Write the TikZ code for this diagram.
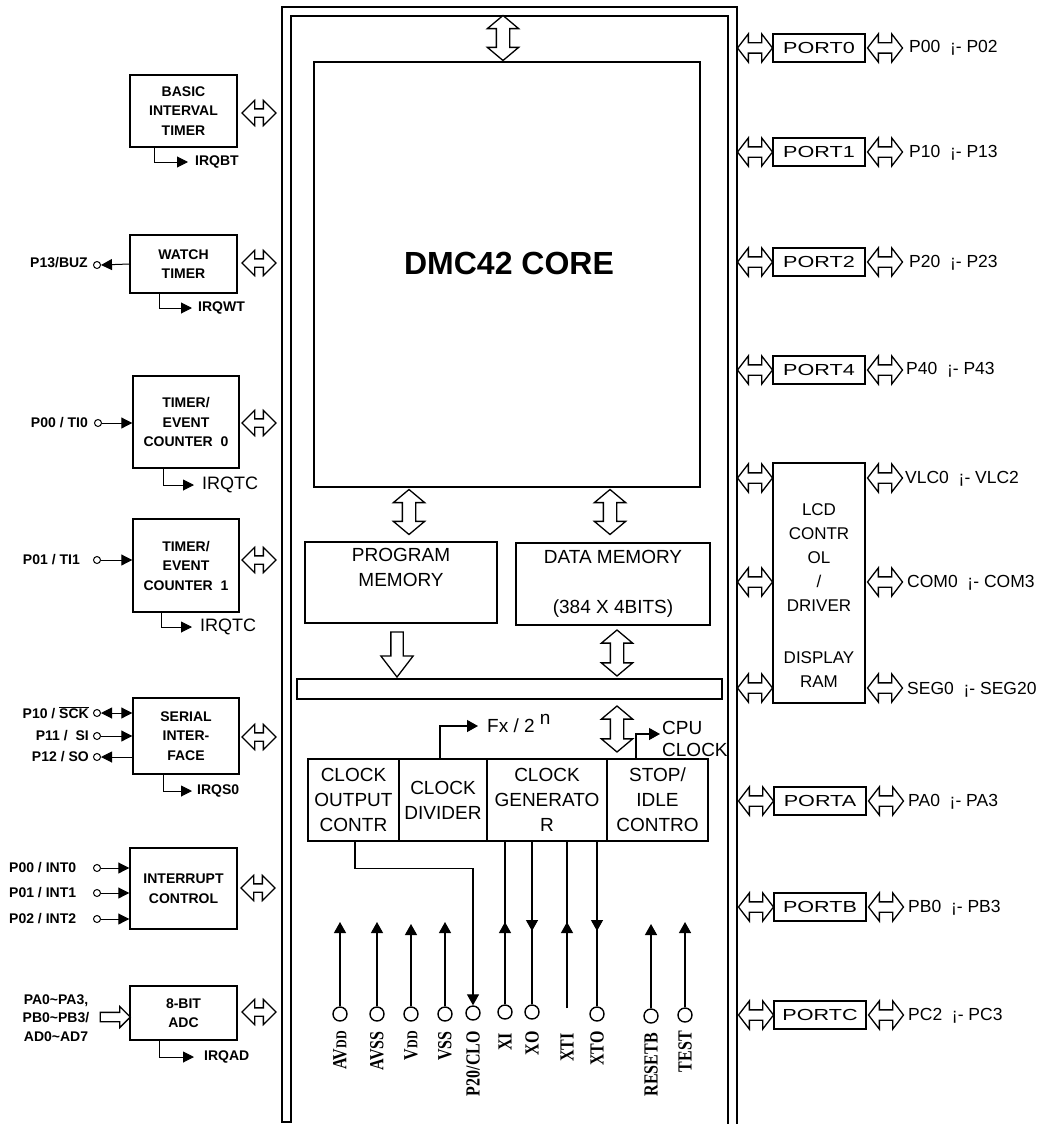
\documentclass[tikz,border=0pt]{standalone}
\usepackage{fontspec}
\setmainfont{Liberation Sans}
\newfontfamily\pinfont[FakeStretch=0.8]{Liberation Serif}
\newfontfamily\portfont[FakeStretch=1.35]{Liberation Sans}
\usetikzlibrary{arrows.meta,positioning,shapes.arrows}

\begin{document}
\begin{tikzpicture}[x=1pt, y=-1pt,
        unit/.style={draw, line width=1.4pt, align=center, inner sep=0pt, font=\bfseries\fontsize{14}{19.5}\selectfont},
        core/.style={draw, line width=1.4pt, align=center, inner sep=0pt, font=\fontsize{19}{25}\selectfont},
        port/.style={draw, line width=1.4pt, minimum width=92pt, minimum height=28pt, inner sep=0pt, font=\portfont\fontsize{16}{20}\selectfont},
        ext/.style={anchor=west, inner sep=0pt, font=\fontsize{17.5}{20}\selectfont},
        lbl/.style={inner sep=0pt, font=\bfseries\fontsize{14}{18.5}\selectfont},
        pad/.style={circle, draw, line width=1.4pt, minimum size=14pt, inner sep=0pt},
        io/.style={circle, draw, line width=1pt, minimum size=7pt, inner sep=0pt},
        sig/.style={line width=1.3pt, -{Triangle[length=11pt,width=12pt]}},
        irq/.style={line width=1pt, -{Triangle[length=11pt,width=11pt]}},
        irqb/.style={line width=1pt, {Triangle[length=11pt,width=11pt]}-{Triangle[length=11pt,width=11pt]}},
        pinlbl/.style={rotate=90, anchor=east, inner sep=0pt, font=\pinfont\bfseries\fontsize{20}{20}\selectfont},
        hbus/.style={double arrow, draw, line width=1.3pt, fill=white, inner xsep=0pt, inner ysep=3.5pt, double arrow head extend=8.5pt, minimum height=34pt, minimum width=0pt},
        pbus/.style={hbus, inner ysep=4.5pt, double arrow head extend=9pt, double arrow tip angle=105, minimum height=35pt},
        vbus/.style={hbus, rotate=90, inner ysep=6pt, double arrow head extend=9pt, double arrow tip angle=100, minimum height=45pt}
    ]
    \useasboundingbox (0,0) rectangle (1053,1124);

    % chip frame
    \draw[line width=1.8pt] (737,1124) -- (737,7) -- (282,7) -- (282,1122) -- (291,1122) -- (291,16) -- (728,16) -- (728,1124);

    % core
    \node[draw, line width=1.4pt, minimum width=386pt, minimum height=425pt, inner sep=0pt] (dmc) at (507,274.5) {};
    \node[inner sep=0pt, font=\bfseries\fontsize{32}{36}\selectfont] (dmclbl) at (509,263) {DMC42 CORE};
    \node[vbus] (topbus) at (503,38) {};
    \node[vbus] (progbus) at (409,512) {};
    \node[vbus] (databus) at (610,512) {};

    \node[core, minimum width=192pt, minimum height=81pt] (prog) at (401,582.5) {};
    \node[inner sep=0pt, align=center, font=\fontsize{19}{25}\selectfont] (proglbl) at (401,567.5) {PROGRAM\\MEMORY};
    \node[core, minimum width=194pt, minimum height=82pt] (data) at (613,584) {DATA MEMORY\\[25pt](384 X 4BITS)};

    \node[single arrow, draw, line width=1.3pt, fill=white, rotate=-90, inner xsep=0pt, inner ysep=5.5pt, single arrow head extend=10pt, single arrow tip angle=75, minimum height=45pt, minimum width=0pt] (progout) at (397,650.5) {};
    \node[vbus, minimum height=46pt] (dataout) at (617,653) {};
    \node[draw, line width=1.4pt, minimum width=425pt, minimum height=20pt, inner sep=0pt] (ibus) at (509.5,689) {};
    \node[vbus, minimum height=46pt] (clkbus) at (617,729) {};

    % clock blocks
    \node[core, minimum width=91pt, minimum height=82pt] (clkout) at (353.5,800) {CLOCK\\OUTPUT\\CONTR};
    \node[core, minimum width=88pt, minimum height=82pt] (clkdiv) at (443,800) {CLOCK\\DIVIDER};
    \node[core, minimum width=120pt, minimum height=82pt] (clkgen) at (547,800) {CLOCK\\GENERATO\\R};
    \node[core, minimum width=101pt, minimum height=82pt] (stop) at (657.5,800) {STOP/\\IDLE\\CONTRO};

    \node[anchor=west, inner xsep=9pt, inner ysep=0pt, font=\fontsize{19}{22}\selectfont] (fx) at (478,726) {Fx / 2 \smash{\raisebox{8pt}{n}}};
    \draw[sig] ([xshift=-3pt]clkdiv.north) |- (fx.west);
    \node[anchor=west, align=left, inner xsep=2pt, inner ysep=0pt, font=\fontsize{19}{22}\selectfont] (cpuclk) at (660,739) {CPU\\CLOCK};
    \draw[sig] ([xshift=-21.5pt]stop.north) |- ([yshift=5pt]cpuclk.west);

    % pins
    \node[pad] (avdd) at (340,1014) {};
    \node[pad] (avss) at (377,1014) {};
    \node[pad] (vdd) at (411,1014) {};
    \node[pad] (vss) at (445,1014) {};
    \node[pad] (p20) at (473,1013) {};
    \node[pad] (xi) at (505,1012) {};
    \node[pad] (xo) at (532,1012) {};
    \coordinate (xti) at (567,1008);
    \node[pad] (xto) at (597,1014) {};
    \node[pad] (resetb) at (651,1016) {};
    \node[pad] (test) at (685,1015) {};

    \draw[sig] (avdd.north) -- (340,922);
    \draw[sig] (avss.north) -- (377,922);
    \draw[sig] (vdd.north) -- (411,924);
    \draw[sig] (vss.north) -- (445,922);
    \draw[sig] ([xshift=1.5pt]clkout.south) -- ++(0,27) -| (p20.north);
    \draw[line width=1.3pt] (xi.north) -- (xi.north |- clkgen.south);
    \draw[sig] (xi.north) -- (505,922);
    \draw[line width=1.3pt] (xo.north) -- (xo.north |- clkgen.south);
    \draw[sig] (xo.north |- clkgen.south) -- (532,931);
    \draw[line width=1.3pt] (xti) -- (xti |- clkgen.south);
    \draw[sig] (xti) -- (567,922);
    \draw[line width=1.3pt] (xto.north) -- (xto.north |- clkgen.south);
    \draw[sig] (xto.north |- clkgen.south) -- (597,931);
    \draw[sig] (resetb.north) -- (651,924);
    \draw[sig] (test.north) -- (685,922);

    \node[pinlbl] at (340,1031) {AV{\fontsize{15}{15}\selectfont DD}};
    \node[pinlbl] at (377,1031) {AVSS};
    \node[pinlbl] at (411,1031) {V{\fontsize{15}{15}\selectfont DD}};
    \node[pinlbl] at (445,1031) {VSS};
    \node[pinlbl] at (473,1031) {P20/CLO};
    \node[pinlbl] at (505,1033) {XI};
    \node[pinlbl] at (532,1031) {XO};
    \node[pinlbl] at (567,1033) {XTI};
    \node[pinlbl] at (597,1031) {XTO};
    \node[pinlbl] at (651,1033) {RESETB};
    \node[pinlbl] at (685,1031) {TEST};

    % peripherals, left side
    \node[unit, minimum width=107pt, minimum height=72pt] (bit) at (183.5,111) {BASIC\\INTERVAL\\TIMER};
    \node[hbus] (bitbus) at (259,113) {};
    \node[lbl, anchor=west] (irqbt) at (195,162) {IRQBT};
    \draw[irq] ([xshift=-29.5pt]bit.south) |- ([xshift=-7pt]irqbt.west);

    \node[unit, minimum width=107pt, minimum height=58pt] (wt) at (183.5,264) {WATCH\\TIMER};
    \node[hbus] (wtbus) at (259,263) {};
    \node[io] (buz) at (97,265) {};
    \node[lbl, anchor=east] (buzlbl) at (88,263) {P13/BUZ};
    \draw[irq] (wt.west) -- (buz.east);
    \node[lbl, anchor=west] (irqwt) at (198,308) {IRQWT};
    \draw[irq] ([xshift=-24.5pt]wt.south) |- ([xshift=-6pt]irqwt.west);

    \node[unit, minimum width=106pt, minimum height=92pt] (tc0) at (186,422) {TIMER/\\EVENT\\COUNTER\ \ 0};
    \node[hbus] (tc0bus) at (259,423) {};
    \node[io] (ti0) at (98,423) {};
    \node[lbl, anchor=east] (ti0lbl) at (88,423) {P00 / TI0};
    \draw[irq] (ti0.east) -- (ti0.east -| tc0.west);
    \node[anchor=west, inner sep=0pt, font=\fontsize{18}{20}\selectfont] (irqtc0) at (202,485) {IRQTC};
    \draw[irq] ([xshift=-23pt]tc0.south) |- ([xshift=-8pt]irqtc0.west);

    \node[unit, minimum width=106pt, minimum height=93pt] (tc1) at (186,565.5) {TIMER/\\EVENT\\COUNTER\ \ 1};
    \node[hbus] (tc1bus) at (259,560) {};
    \node[io] (ti1) at (97,560) {};
    \node[lbl, anchor=east] (ti1lbl) at (80,560) {P01 / TI1};
    \draw[irq] (ti1.east) -- (ti1.east -| tc1.west);
    \node[anchor=west, inner sep=0pt, font=\fontsize{18}{20}\selectfont] (irqtc1) at (200,627) {IRQTC};
    \draw[irq] ([xshift=-25pt]tc1.south) |- ([xshift=-8pt]irqtc1.west);

    \node[unit, minimum width=106pt, minimum height=76pt] (sio) at (186,736) {SERIAL\\INTER-\\FACE};
    \node[hbus] (siobus) at (259,737) {};
    \node[io] (sck) at (97,713) {};
    \node[io] (si) at (97,736) {};
    \node[io] (so) at (97,757) {};
    \node[lbl, anchor=east] (scklbl) at (89,713) {P10 / $\overline{\hbox{SCK}}$};
    \node[lbl, anchor=east] (silbl) at (89,736) {P11 /\ \ SI};
    \node[lbl, anchor=east] (solbl) at (89,757) {P12 / SO};
    \draw[irqb] (sck.east) -- (sck.east -| sio.west);
    \draw[irq] (si.east) -- (si.east -| sio.west);
    \draw[irq] (so.east -| sio.west) -- (so.east);
    \node[lbl, anchor=west] (irqs0) at (197,791) {IRQS0};
    \draw[irq] ([xshift=-23pt]sio.south) |- ([xshift=-5pt]irqs0.west);

    \node[unit, minimum width=107pt, minimum height=81pt] (intc) at (183.5,888.5) {INTERRUPT\\CONTROL};
    \node[hbus] (intcbus) at (258,888) {};
    \node[io] (int0) at (97,868) {};
    \node[io] (int1) at (97,893) {};
    \node[io] (int2) at (97,919) {};
    \node[lbl, anchor=west] (int0lbl) at (9,868) {P00 / INT0};
    \node[lbl, anchor=west] (int1lbl) at (9,893) {P01 / INT1};
    \node[lbl, anchor=west] (int2lbl) at (9,919) {P02 / INT2};
    \draw[irq] (int0.east) -- (int0.east -| intc.west);
    \draw[irq] (int1.east) -- (int1.east -| intc.west);
    \draw[irq] (int2.east) -- (int2.east -| intc.west);

    \node[unit, minimum width=107pt, minimum height=54pt] (adc) at (183.5,1013) {8-BIT\\ADC};
    \node[hbus] (adcbus) at (259,1012) {};
    \node[lbl, align=center] (adclbl) at (56,1018) {PA0\textasciitilde PA3,\\PB0\textasciitilde PB3/\\AD0\textasciitilde AD7};
    \node[single arrow, draw, line width=1.3pt, fill=white, inner xsep=0pt, inner ysep=4pt, single arrow head extend=6pt, single arrow tip angle=90, minimum height=30pt, minimum width=0pt] (adcin) at (113,1017) {};
    \node[lbl, anchor=west] (irqad) at (204,1057) {IRQAD};
    \draw[irq] ([xshift=-24.5pt]adc.south) |- ([xshift=-10pt]irqad.west);

    % ports, right side
    \node[port] (port0) at (819,48) {PORT0};
    \node[pbus] at (755,48) {};
    \node[pbus] at (885,48) {};
    \node[ext] (port0lbl) at (909,48) {P00 \ ¡- P02};

    \node[port] (port1) at (819,152) {PORT1};
    \node[pbus] at (755,152) {};
    \node[pbus] at (885,152) {};
    \node[ext] (port1lbl) at (909,153) {P10 \ ¡- P13};

    \node[port] (port2) at (819,262) {PORT2};
    \node[pbus] at (755,262) {};
    \node[pbus] at (885,262) {};
    \node[ext] (port2lbl) at (909,263) {P20 \ ¡- P23};

    \node[port] (port4) at (819,370) {PORT4};
    \node[pbus] at (755,370) {};
    \node[pbus] at (885,370) {};
    \node[ext] (port4lbl) at (906,370) {P40 \ ¡- P43};

    \node[port, minimum height=240pt] (lcd) at (819,583) {};
    \node[inner sep=0pt, align=center, font=\fontsize{17}{24}\selectfont] (lcdlbl) at (819,596) {LCD\\CONTR\\OL\\/\\DRIVER\\[28pt]DISPLAY\\RAM};
    \node[pbus] at (755,478) {};
    \node[pbus] at (755,582) {};
    \node[pbus] at (755,688) {};
    \node[pbus] at (885,478) {};
    \node[pbus] at (885,582) {};
    \node[pbus] at (885,688) {};
    \node[ext] (vlclbl) at (905,479) {VLC0 \ ¡- VLC2};
    \node[ext] (comlbl) at (907,583) {COM0 \ ¡- COM3};
    \node[ext] (seglbl) at (907,690) {SEG0 \ ¡- SEG20};

    \node[port] (porta) at (820,801) {PORTA};
    \node[pbus] at (756,801) {};
    \node[pbus] at (886,801) {};
    \node[ext] (portalbl) at (908,802) {PA0 \ ¡- PA3};

    \node[port] (portb) at (820,907) {PORTB};
    \node[pbus] at (756,907) {};
    \node[pbus] at (886,907) {};
    \node[ext] (portblbl) at (908,908) {PB0 \ ¡- PB3};

    \node[port] (portc) at (820,1015) {PORTC};
    \node[pbus] at (756,1015) {};
    \node[pbus] at (886,1015) {};
    \node[ext] (portclbl) at (908,1016) {PC2 \ ¡- PC3};
\end{tikzpicture}
\end{document}
